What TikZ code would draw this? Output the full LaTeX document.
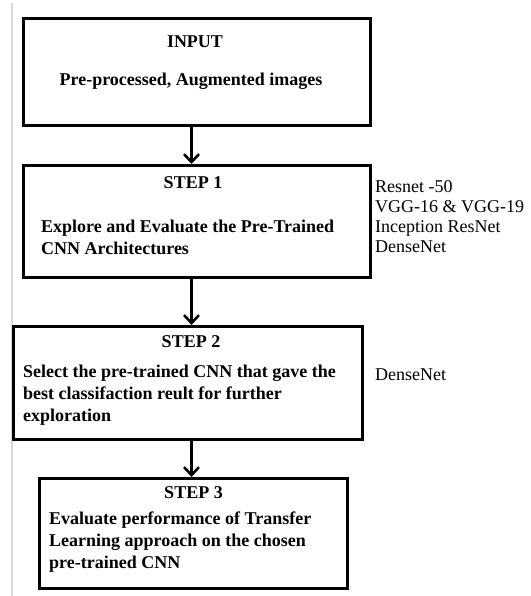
\documentclass[tikz,border=0pt]{standalone}
\usepackage{fontspec}
\setmainfont{Liberation Serif}
\usepackage{tikz}
\usetikzlibrary{arrows.meta}

\tikzset{
  stagebox/.style={draw=black, line width=2.8pt, anchor=north west, inner sep=0pt},
  stagetitle/.style={font=\fontsize{18}{22}\selectfont\bfseries, inner sep=0pt},
  stagetext/.style={font=\fontsize{18}{22}\selectfont\bfseries, align=left, anchor=west, inner sep=0pt},
  modeltext/.style={font=\fontsize{18}{19.8}\selectfont, align=left, anchor=west, inner sep=0pt},
  flow/.style={line width=2.6pt, -{Straight Barb[length=8pt,width=15pt,line width=2.6pt]}}
}

\begin{document}
\begin{tikzpicture}[x=1pt,y=-1pt]
  \useasboundingbox (0,0) rectangle (530,596);
  \draw[black!15, line width=1.2pt] (12,3) -- (12,596);
  \coordinate (axis) at (191.5,0);

  % boxes
  \node[stagebox, minimum width=347pt, minimum height=107pt] (input) at (22,17) {};
  \node[stagebox, minimum width=347pt, minimum height=112pt] (step1) at (22,164) {};
  \node[stagebox, minimum width=349pt, minimum height=113pt] (step2) at (12,325) {};
  \node[stagebox, minimum width=308pt, minimum height=110pt] (step3) at (38,477) {};

  % texts
  \node[stagetitle] (inputtitle) at (195,42) {INPUT};
  \node[stagetitle] (inputbody) at (191,81) {Pre-processed, Augmented images};

  \node[stagetitle] (step1title) at (193,183) {STEP 1};
  \node[stagetext] (step1body) at (41,237.5) {Explore and Evaluate the Pre-Trained\\CNN Architectures};

  \node[stagetitle] (step2title) at (191,342) {STEP 2};
  \node[stagetext] (step2body) at (23,395) {Select the pre-trained CNN that gave the\\best classifaction reult for further\\exploration};

  \node[stagetitle] (step3title) at (193.5,493) {STEP 3};
  \node[stagetext] (step3body) at (49,542.5) {Evaluate performance of Transfer\\Learning approach on the chosen\\pre-trained CNN};

  \node[modeltext] (models) at (375,216.5) {Resnet -50\\VGG-16 \& VGG-19\\Inception ResNet\\DenseNet};
  \node[modeltext] (chosen) at (375,375) {DenseNet};

  % arrows
  \draw[flow] (input.south -| axis) -- (step1.north -| axis);
  \draw[flow] (step1.south -| axis) -- (step2.north -| axis);
  \draw[flow] (step2.south -| axis) -- (step3.north -| axis);
\end{tikzpicture}
\end{document}
